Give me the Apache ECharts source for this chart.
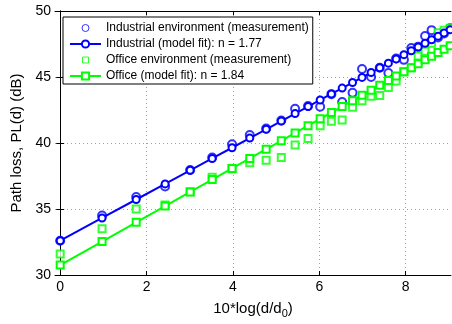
<!DOCTYPE html>
<html>
<head>
<meta charset="utf-8">
<script src="https://cdn.jsdelivr.net/npm/echarts@6/dist/echarts.min.js"></script>
<style>html,body{margin:0;padding:0;background:#fff;}#c{width:452px;height:324px;}</style>
</head>
<body>
<div id="c"></div>
<script>
// x positions: 10*log10(d/d0)
const xVals = [0, 0.97, 1.76, 2.43, 3.01, 3.52, 3.98, 4.39, 4.77, 5.12, 5.44, 5.74, 6.02, 6.28, 6.53, 6.77, 6.99, 7.20, 7.40, 7.60, 7.78, 7.96, 8.13, 8.29, 8.45, 8.60, 8.75, 8.89, 9.03];
const industrialMeas = [32.6, 34.5, 35.9, 36.7, 37.95, 38.9, 39.9, 40.6, 41.1, 41.7, 42.6, 42.8, 42.75, 43.7, 43.1, 43.8, 45.6, 45.0, 45.7, 45.3, 46.4, 46.3, 47.2, 47.3, 48.1, 48.55, 48.0, 48.3, 48.7];
const industrialFit = [32.60, 34.32, 35.72, 36.90, 37.93, 38.83, 39.64, 40.37, 41.04, 41.66, 42.23, 42.76, 43.26, 43.72, 44.16, 44.58, 44.97, 45.34, 45.70, 46.05, 46.37, 46.69, 46.99, 47.27, 47.56, 47.82, 48.09, 48.34, 48.58];
const officeMeas = [31.6, 33.5, 35.0, 35.3, 36.3, 37.4, 38.05, 38.5, 38.7, 38.9, 39.85, 40.35, 41.3, 41.65, 41.75, 42.7, 43.2, 43.55, 43.6, 44.2, 44.7, 45.4, 45.7, 46.6, 46.95, 47.55, 48.35, 48.55, 48.7];
const officeFit = [30.75, 32.53, 33.99, 35.22, 36.29, 37.23, 38.07, 38.83, 39.53, 40.17, 40.76, 41.31, 41.83, 42.31, 42.77, 43.21, 43.61, 44.00, 44.37, 44.73, 45.07, 45.40, 45.71, 46.00, 46.30, 46.57, 46.85, 47.11, 47.37];
const xTicks = [0, 2, 4, 6, 8];
const yTicks = [30, 35, 40, 45, 50];
const seriesNames = ['Industrial environment (measurement)', 'Industrial (model fit): n = 1.77', 'Office environment (measurement)', 'Office (model fit): n = 1.84'];

const pairs = (ys) => xVals.map((x, i) => [x, ys[i]]);
const FONT = 'Liberation Sans, Arial, Helvetica, sans-serif';
const BLUE = '#0000ff', GREEN = '#00ff00';

// legend icons for scatter: small marker centred in a 31x9 box
const circleIcon = 'path://M0,0M31,9M19,4.5A3.5,3.5,0,1,1,12,4.5A3.5,3.5,0,1,1,19,4.5Z';
const squareIcon = 'path://M0,0M31,9M12.5,1.5L18.5,1.5L18.5,7.5L12.5,7.5Z';

const chart = echarts.init(document.getElementById('c'), null, {renderer: 'canvas'});
const axisCommon = {
  type: 'value',
  axisLine: {show: true, lineStyle: {color: '#000', width: 1}},
  axisTick: {show: true, inside: true, length: 4, lineStyle: {color: '#000'}},
};
const XMIN = -0.12, XMAX = 9.05;
chart.setOption({
  animation: false,
  backgroundColor: '#fff',
  grid: {left: 55, right: 1, top: 11, bottom: 41, containLabel: false},
  xAxis: [
    Object.assign({}, axisCommon, {
      position: 'bottom', min: XMIN, max: XMAX,
      axisTick: {show: true, inside: true, length: 4, lineStyle: {color: '#000'}, customValues: xTicks},
      axisLabel: {color: '#000', fontSize: 14, fontFamily: FONT, margin: 5, customValues: xTicks},
      splitLine: {show: true, lineStyle: {color: '#a0a0a0', type: [1, 3], width: 1}},
      name: '10*log(d/d{sub|0})',
      nameLocation: 'middle', nameGap: 24,
      nameTextStyle: {color: '#000', fontSize: 15, fontFamily: FONT,
        rich: {sub: {fontSize: 11, verticalAlign: 'bottom', padding: [9, 0, 0, 0], fontFamily: FONT, color: '#000'}}}
    }),
    Object.assign({}, axisCommon, {
      position: 'top', min: XMIN, max: XMAX,
      axisTick: {show: true, inside: true, length: 4, lineStyle: {color: '#000'}, customValues: xTicks},
      axisLabel: {show: false}, splitLine: {show: false}
    })
  ],
  yAxis: [
    Object.assign({}, axisCommon, {
      position: 'left', min: 30, max: 50, interval: 5,
      axisLabel: {color: '#000', fontSize: 14, fontFamily: FONT, margin: 4,
        formatter: v => yTicks.includes(v) ? String(v) : ''},
      splitLine: {show: true, lineStyle: {color: '#a0a0a0', type: [1, 3], width: 1}},
      name: 'Path loss, PL(d) (dB)', nameLocation: 'middle', nameGap: 23,
      nameTextStyle: {color: '#000', fontSize: 15, fontFamily: FONT}
    }),
    Object.assign({}, axisCommon, {
      position: 'right', min: 30, max: 50, interval: 5,
      axisLabel: {show: false}, splitLine: {show: false}
    })
  ],
  legend: {
    orient: 'vertical', left: 63, top: 17,
    padding: [4, 4, 1, 6], itemGap: 2, itemWidth: 31, itemHeight: 9,
    backgroundColor: '#fff', borderColor: '#000', borderWidth: 1,
    textStyle: {color: '#000', fontSize: 12, fontFamily: FONT, lineHeight: 14},
    data: [
      {name: seriesNames[0], icon: circleIcon, itemStyle: {color: 'transparent', borderColor: BLUE, borderWidth: 1}},
      {name: seriesNames[1]},
      {name: seriesNames[2], icon: squareIcon, itemStyle: {color: 'transparent', borderColor: GREEN, borderWidth: 1}},
      {name: seriesNames[3]}
    ]
  },
  series: [
    {
      name: seriesNames[0], type: 'scatter', data: pairs(industrialMeas),
      symbol: 'emptyCircle', symbolSize: 8,
      itemStyle: {color: BLUE, borderColor: BLUE, borderWidth: 1}, z: 3
    },
    {
      name: seriesNames[1], type: 'line', data: pairs(industrialFit),
      symbol: 'emptyCircle', symbolSize: 7, showAllSymbol: true,
      lineStyle: {color: BLUE, width: 2},
      itemStyle: {color: BLUE, borderColor: BLUE, borderWidth: 2}, z: 4
    },
    {
      name: seriesNames[2], type: 'scatter', data: pairs(officeMeas),
      symbol: 'emptyRect', symbolSize: 7,
      itemStyle: {color: GREEN, borderColor: GREEN, borderWidth: 1}, z: 3
    },
    {
      name: seriesNames[3], type: 'line', data: pairs(officeFit),
      symbol: 'emptyRect', symbolSize: 7, showAllSymbol: true,
      lineStyle: {color: GREEN, width: 2},
      itemStyle: {color: GREEN, borderColor: GREEN, borderWidth: 2}, z: 4
    }
  ]
});
</script>
</body>
</html>
